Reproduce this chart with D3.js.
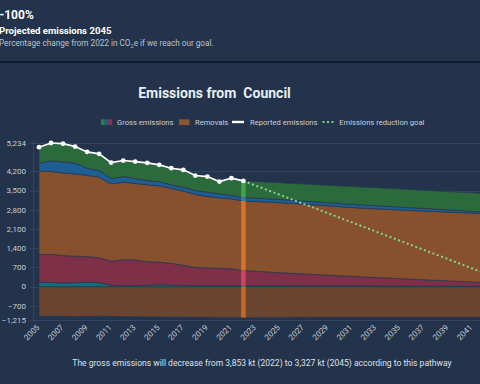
<!DOCTYPE html>
<html>
<head>
<meta charset="utf-8">
<script src="https://cdn.jsdelivr.net/npm/d3@7"></script>
<style>
  html, body { margin: 0; padding: 0; background: #22334b; overflow: hidden; }
  svg { display: block; font-family: Roboto, "Liberation Sans", sans-serif; }
</style>
</head>
<body>
<script>

// _____________ data
var years = [2005, 2006, 2007, 2008, 2009, 2010, 2011, 2012, 2013, 2014,
             2015, 2016, 2017, 2018, 2019, 2020, 2021, 2022, 2023, 2024,
             2025, 2026, 2027, 2028, 2029, 2030, 2031, 2032, 2033, 2034,
             2035, 2036, 2037, 2038, 2039, 2040, 2041, 2042, 2043, 2044, 2045]

// gross emissions by source (kt CO2e), bottom to top of the stack
var tealVals   = [160, 150, 130, 140, 170, 140, 50, 40, 40, 50,
                  70, 60, 50, 40, 40, 40, 40, 40, 38, 37,
                  36, 35, 34, 33, 32, 31, 30, 29, 28, 27,
                  26, 25, 24, 23, 22, 21, 20, 19, 18, 17, 16]
var pinkVals   = [1007, 1030, 1000, 970, 924, 917, 876, 944, 933, 861,
                  820, 790, 730, 660, 640, 630, 610, 550, 522, 498,
                  474, 452, 428, 407, 386, 366, 346, 326, 306, 286,
                  266, 247, 228, 209, 190, 171, 152, 133, 115, 97, 79]
var orangeVals = [3051, 3012, 3015, 2999, 2960, 2931, 2818, 2822, 2789, 2797,
                  2781, 2730, 2700, 2660, 2601, 2564, 2547, 2534, 2545, 2545,
                  2545, 2543, 2543, 2535, 2527, 2518, 2509, 2500, 2501, 2502,
                  2503, 2503, 2503, 2503, 2503, 2503, 2506, 2510, 2513, 2516, 2520]
var blueVals   = [281, 390, 401, 390, 263, 241, 194, 204, 176, 157,
                  157, 128, 144, 140, 160, 146, 128, 121, 120, 120,
                  120, 120, 115, 115, 115, 115, 115, 120, 115, 110,
                  105, 100, 95, 90, 85, 80, 62, 58, 54, 50, 45]
var greenVals  = [583, 652, 664, 605, 594, 609, 583, 584, 619, 645,
                  609, 608, 630, 547, 569, 448, 627, 608, 605, 607,
                  609, 612, 619, 626, 633, 640, 647, 649, 652, 654,
                  656, 658, 660, 662, 664, 666, 679, 676, 673, 670, 667]

// removals (negative)
var removalVals = [-1070, -1075, -1080, -1085, -1080, -1075, -1080, -1090, -1095, -1100,
                   -1105, -1110, -1110, -1115, -1115, -1120, -1120, -1125, -1122, -1120,
                   -1120, -1118, -1118, -1117, -1117, -1116, -1116, -1116, -1115, -1115,
                   -1115, -1115, -1115, -1115, -1115, -1115, -1115, -1115, -1115, -1115, -1115]

var lastReportedYear = 2022
var goalYears = [2022, 2045]
var goalVals = [3853, 0]

var yTicks = [-1215, -700, 0, 700, 1400, 2100, 2800, 3500, 4200, 5234]
var xTicks = [2005, 2007, 2009, 2011, 2013, 2015, 2017, 2019, 2021, 2023,
              2025, 2027, 2029, 2031, 2033, 2035, 2037, 2039, 2041]

var legendItems = ['Gross emissions', 'Removals', 'Reported emissions', 'Emissions reduction goal']

// _____________ config
var W = 480, H = 384
var keys = ['teal', 'pink', 'orange', 'blue', 'green']
var colors = { teal: '#13707a', pink: '#7e3049', orange: '#87512e', blue: '#1d5f94', green: '#2b6b3b', removals: '#6a4630' }
var hiColors = { teal: '#1b98a0', pink: '#d0435e', orange: '#d4742c', blue: '#2a7dc2', green: '#43a14b', removals: '#c2692a' }

var rows = years.map(function (yr, i) {
  return { year: yr, teal: tealVals[i], pink: pinkVals[i], orange: orangeVals[i],
           blue: blueVals[i], green: greenVals[i], removals: removalVals[i] }
})

var series = d3.stack().keys(keys)(rows)
var topLayer = series[series.length - 1]

var x = d3.scaleLinear().domain([2005, 2045]).range([39, 520])
var y = d3.scaleLinear().domain([-1215, 5234]).range([320, 143])

var svg = d3.select('body').append('svg')
  .attr('width', W)
  .attr('height', H)

// _____________ header
svg.append('rect')
  .attr('x', 0).attr('y', 61).attr('width', W).attr('height', 2)
  .attr('fill', '#0e1a2c')

svg.append('text')
  .attr('x', -0.5).attr('y', 19.3)
  .attr('fill', '#ffffff')
  .style('font-size', '12px').style('font-weight', 700)
  .text('-100%')

svg.append('text')
  .attr('x', -1).attr('y', 33.5)
  .attr('fill', '#ffffff')
  .style('font-size', '9.6px').style('font-weight', 700)
  .text('Projected emissions 2045')

var sub = svg.append('text')
  .attr('x', -1).attr('y', 46.3)
  .attr('fill', '#b9c2ce')
  .style('font-size', '8.2px')
sub.append('tspan').text('Percentage change from 2022 in CO')
sub.append('tspan').attr('dy', 1.6).style('font-size', '5.6px').text('2')
sub.append('tspan').attr('dy', -1.6).text('e if we reach our goal.')

// _____________ title
svg.append('text')
  .attr('x', 214.5).attr('y', 98.3)
  .attr('text-anchor', 'middle')
  .attr('fill', '#e9edf2')
  .style('font-size', '14px').style('font-weight', 700)
  .style('white-space', 'pre')
  .text('Emissions from  Council')

// _____________ legend
var legend = svg.append('g').attr('class', 'legend')
  .style('font-size', '7.6px')
  .attr('fill', '#c9d0da')

var triCols = ['#2e7d4a', '#1d5f94', '#8a3547']
triCols.forEach(function (c, i) {
  legend.append('rect')
    .attr('x', 101 + i * 3.7).attr('y', 119.3).attr('width', 3.8).attr('height', 5.7)
    .attr('fill', c)
})
legend.append('text').attr('x', 117).attr('y', 125).text(legendItems[0])

legend.append('rect')
  .attr('x', 179).attr('y', 119.3).attr('width', 10.5).attr('height', 5.7)
  .attr('fill', '#8b5530')
legend.append('text').attr('x', 195).attr('y', 125).text(legendItems[1])

legend.append('rect')
  .attr('x', 232).attr('y', 120.8).attr('width', 12).attr('height', 2.4)
  .attr('fill', '#ffffff')
legend.append('text').attr('x', 250).attr('y', 125).text(legendItems[2])

legend.append('line')
  .attr('x1', 322.5).attr('x2', 335).attr('y1', 122).attr('y2', 122)
  .attr('stroke', '#7fcf8c').attr('stroke-width', 2)
  .attr('stroke-dasharray', '2,2.5')
legend.append('text').attr('x', 339.3).attr('y', 125).text(legendItems[3])

// _____________ grid + y axis
var grid = svg.append('g').attr('class', 'grid')
grid.selectAll('line')
  .data(yTicks)
  .enter()
    .append('line')
    .attr('x1', 30).attr('x2', W)
    .attr('y1', function (d) { return Math.round(y(d)) + 0.5 })
    .attr('y2', function (d) { return Math.round(y(d)) + 0.5 })
    .attr('stroke', '#34465f')
    .attr('stroke-width', 1)

grid.append('line')
  .attr('x1', 33.5).attr('x2', 33.5)
  .attr('y1', 140).attr('y2', 322)
  .attr('stroke', '#34465f')

svg.append('g').attr('class', 'yLabels')
  .selectAll('text')
  .data(yTicks)
  .enter()
    .append('text')
    .attr('x', 26)
    .attr('y', function (d) { return y(d) })
    .attr('dy', '0.35em')
    .attr('text-anchor', 'end')
    .attr('fill', '#c5ccd6')
    .style('font-size', '8px')
    .text(function (d) { return d3.format(',')(d) })

// _____________ areas
var area = d3.area()
  .x(function (d) { return x(d.data.year) })
  .y0(function (d) { return y(d[0]) })
  .y1(function (d) { return y(d[1]) })

var removalArea = d3.area()
  .x(function (d) { return x(d.year) })
  .y0(y(0))
  .y1(function (d) { return y(d.removals) })

var areas = svg.append('g').attr('class', 'areas')

areas.append('path')
  .datum(rows)
  .attr('d', removalArea)
  .attr('fill', colors.removals)
  .attr('stroke', '#2c3850')
  .attr('stroke-width', 0.8)

areas.selectAll('path.layer')
  .data(series)
  .enter()
    .append('path')
    .attr('class', 'layer')
    .attr('d', area)
    .attr('fill', function (d) { return colors[d.key] })
    .attr('stroke', '#2c3850')
    .attr('stroke-width', 0.8)

// highlighted reference year
var hiIndex = years.indexOf(lastReportedYear)
var bw = 4.6
var hi = svg.append('g').attr('class', 'highlight')
hi.selectAll('rect')
  .data(series)
  .enter()
    .append('rect')
    .attr('x', x(lastReportedYear) - bw / 2)
    .attr('width', bw)
    .attr('y', function (d) { return y(d[hiIndex][1]) })
    .attr('height', function (d) { return y(d[hiIndex][0]) - y(d[hiIndex][1]) })
    .attr('fill', function (d) { return hiColors[d.key] })
hi.append('rect')
  .attr('x', x(lastReportedYear) - bw / 2)
  .attr('width', bw)
  .attr('y', y(0))
  .attr('height', y(removalVals[hiIndex]) - y(0))
  .attr('fill', hiColors.removals)

// _____________ goal line
var goal = goalYears.map(function (yr, i) { return { year: yr, v: goalVals[i] } })
svg.append('path')
  .datum(goal)
  .attr('d', d3.line().x(function (d) { return x(d.year) }).y(function (d) { return y(d.v) }))
  .attr('fill', 'none')
  .attr('stroke', '#86d494')
  .attr('stroke-width', 2)
  .attr('stroke-dasharray', '2,2.6')

// _____________ reported emissions
var reported = topLayer.filter(function (d) { return d.data.year <= lastReportedYear })
svg.append('path')
  .datum(reported)
  .attr('d', d3.line().x(function (d) { return x(d.data.year) }).y(function (d) { return y(d[1]) }))
  .attr('fill', 'none')
  .attr('stroke', '#ffffff')
  .attr('stroke-width', 1.6)

svg.append('g').attr('class', 'dots')
  .selectAll('circle')
  .data(reported)
  .enter()
    .append('circle')
    .attr('cx', function (d) { return x(d.data.year) })
    .attr('cy', function (d) { return y(d[1]) })
    .attr('r', 2.4)
    .attr('fill', '#ffffff')

// _____________ x labels
svg.append('g').attr('class', 'xLabels')
  .selectAll('text')
  .data(xTicks)
  .enter()
    .append('text')
    .attr('transform', function (d) { return 'translate(' + (x(d) - 1) + ',326) rotate(-45)' })
    .attr('text-anchor', 'end')
    .attr('dy', '0.35em')
    .attr('fill', '#c5ccd6')
    .style('font-size', '8px')
    .text(function (d) { return d })

// _____________ footer
svg.append('text')
  .attr('x', 72.3).attr('y', 365.7)
  .attr('fill', '#dde2e8')
  .style('font-size', '8.55px')
  .text('The gross emissions will decrease from 3,853 kt (2022) to 3,327 kt (2045) according to this pathway')

</script>
</body>
</html>
